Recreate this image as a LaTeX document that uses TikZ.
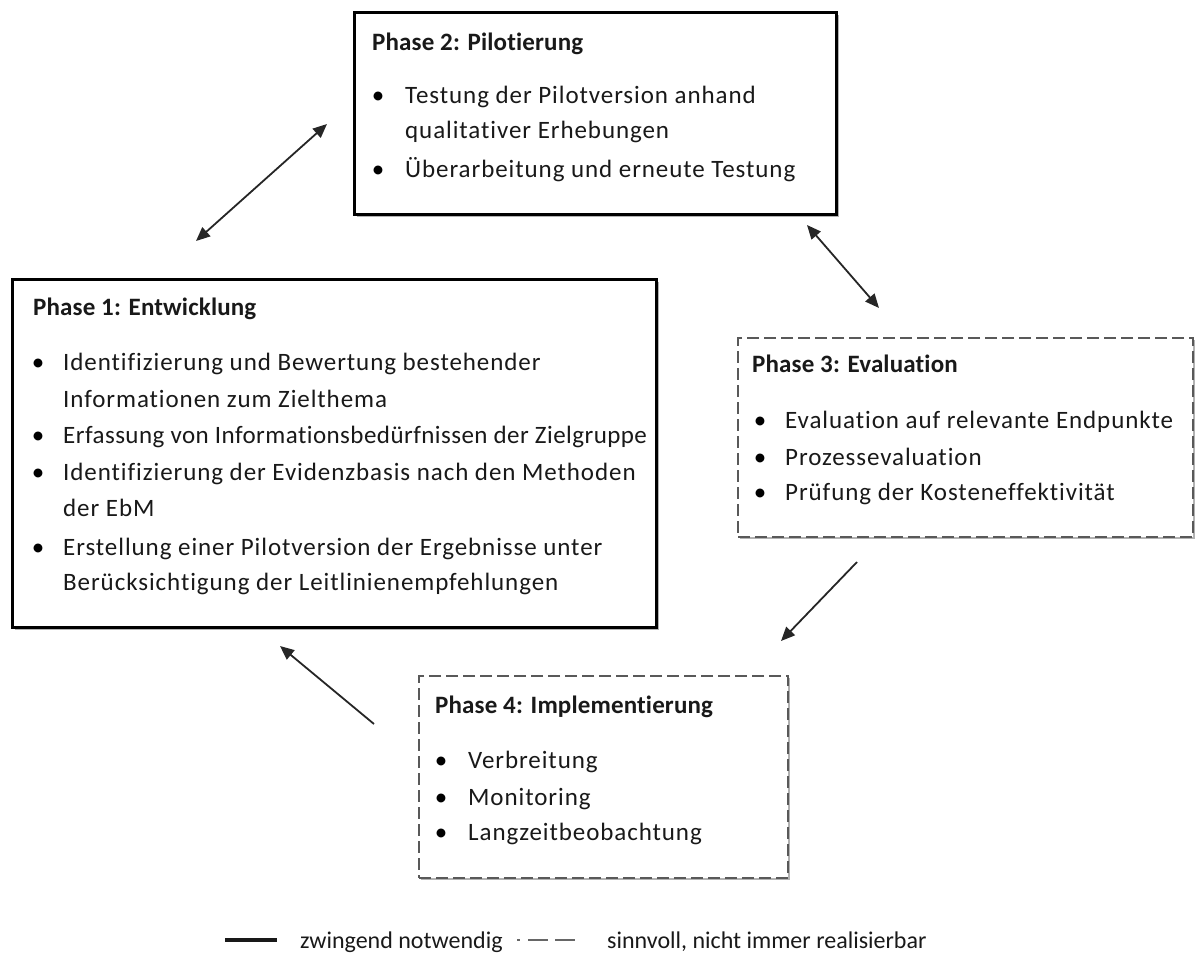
\documentclass[tikz,border=0pt]{standalone}
\usepackage{fontspec}
\setmainfont{Carlito}[Ligatures=NoCommon]
\newfontfamily\bodyfont{Carlito}[LetterSpace=3.7,Ligatures=NoCommon]
\newfontfamily\tightfont{Carlito}[LetterSpace=1.8,Ligatures=NoCommon]
\newfontfamily\titlefont{Carlito}[LetterSpace=0.6,Ligatures=NoCommon]
\newfontfamily\legendfont{Carlito}[Ligatures=NoCommon]
\usetikzlibrary{arrows.meta,shadows}
\begin{document}
\begin{tikzpicture}[x=1pt,y=-1pt,
  boxshadow/.style={drop shadow={shadow xshift=2pt, shadow yshift=-2pt, opacity=0.3, fill=black}},
  solidbox/.style={draw=black, line width=3pt, fill=white, anchor=north west, inner sep=0, boxshadow},
  dashbox/.style={draw=black!65, line width=2pt, dash pattern=on 12pt off 5pt, fill=white, anchor=north west, inner sep=0, boxshadow},
  ttl/.style={anchor=base west, font=\titlefont\fontsize{25}{29}\selectfont\bfseries, inner sep=0, text=black!90},
  itm/.style={anchor=base west, font=\bodyfont\fontsize{25}{29}\selectfont, inner sep=0, text=black!90},
  itmtight/.style={anchor=base west, font=\tightfont\fontsize{25}{29}\selectfont, inner sep=0, text=black!90},
  bul/.style={anchor=base, font=\legendfont\fontsize{25}{29}\selectfont, inner sep=0},
  conn/.style={line width=1.8pt, black!85, {Triangle[length=14pt,width=12pt]}-{Triangle[length=14pt,width=12pt]}},
  oneway/.style={line width=1.8pt, black!85, -{Triangle[length=14pt,width=12pt]}},
  lgd/.style={anchor=base west, font=\legendfont\fontsize{24}{28}\selectfont, inner sep=0, text=black!90}
]
\useasboundingbox (0,0) rectangle (1196,956);

% boxes
\node[solidbox, minimum width=482pt, minimum height=202pt] (p2) at (353,11) {};
\node[solidbox, minimum width=644pt, minimum height=348pt] (p1) at (11,278) {};
\node[dashbox, minimum width=455pt, minimum height=199pt] (p3) at (737,337) {};
\node[dashbox, minimum width=369pt, minimum height=202pt] (p4) at (418,675) {};

% Phase 2
\node[ttl] (t2) at (372,50) {Phase 2: Pilotierung};
\node[bul] (b21) at (378,103) {•};
\node[itm] (i21) at (405,103) {Testung der Pilotversion anhand};
\node[itm] (i21b) at (405,138) {qualitativer Erhebungen};
\node[bul] (b22) at (378,177) {•};
\node[itm] (i22) at (405,177) {Überarbeitung und erneute Testung};

% Phase 1
\node[ttl] (t1) at (33,315) {Phase 1: Entwicklung};
\node[bul] (b11) at (38,370) {•};
\node[itm] (i11) at (63,370) {Identifizierung und Bewertung bestehender};
\node[itm] (i11b) at (63,407) {Informationen zum Zielthema};
\node[bul] (b12) at (38,443) {•};
\node[itmtight] (i12) at (63,443) {Erfassung von Informationsbedürfnissen der Zielgruppe};
\node[bul] (b13) at (38,480) {•};
\node[itm] (i13) at (63,480) {Identifizierung der Evidenzbasis nach den Methoden};
\node[itm] (i13b) at (63,516) {der EbM};
\node[bul] (b14) at (38,555) {•};
\node[itm] (i14) at (63,555) {Erstellung einer Pilotversion der Ergebnisse unter};
\node[itm] (i14b) at (63,590) {Berücksichtigung der Leitlinienempfehlungen};

% Phase 3
\node[ttl] (t3) at (752,372) {Phase 3: Evaluation};
\node[bul] (b31) at (760,428) {•};
\node[itm] (i31) at (785,428) {Evaluation auf relevante Endpunkte};
\node[bul] (b32) at (760,465) {•};
\node[itm] (i32) at (785,465) {Prozessevaluation};
\node[bul] (b33) at (760,500) {•};
\node[itm] (i33) at (785,500) {Prüfung der Kosteneffektivität};

% Phase 4
\node[ttl] (t4) at (435,713) {Phase 4: Implementierung};
\node[bul] (b41) at (441,768) {•};
\node[itm] (i41) at (468,768) {Verbreitung};
\node[bul] (b42) at (441,805) {•};
\node[itm] (i42) at (468,805) {Monitoring};
\node[bul] (b43) at (441,840) {•};
\node[itm] (i43) at (468,840) {Langzeitbeobachtung};

% connectors
\coordinate (a12s) at (196,241);
\coordinate (a12e) at (327,124);
\coordinate (a23s) at (807,225);
\coordinate (a23e) at (879,308);
\coordinate (a34s) at (857,562);
\coordinate (a34e) at (781,641);
\coordinate (a41s) at (374,724);
\coordinate (a41e) at (280,646);
\draw[conn] (a12s) -- (a12e);
\draw[conn] (a23s) -- (a23e);
\draw[oneway] (a34s) -- (a34e);
\draw[oneway] (a41s) -- (a41e);

% legend
\coordinate (l1s) at (225,940);
\coordinate (l1e) at (277,940);
\draw[line width=4pt, black!90] (l1s) -- (l1e);
\node[lgd] (lt1) at (300,948) {zwingend notwendig};
\coordinate (l2s) at (517,940);
\coordinate (l2e) at (583,940);
\draw[line width=2pt, black!60, dash pattern=on 3pt off 8pt on 20pt off 7pt on 20pt off 20pt] (l2s) -- (l2e);
\node[lgd] (lt2) at (607,948) {sinnvoll, nicht immer realisierbar};
\end{tikzpicture}
\end{document}
